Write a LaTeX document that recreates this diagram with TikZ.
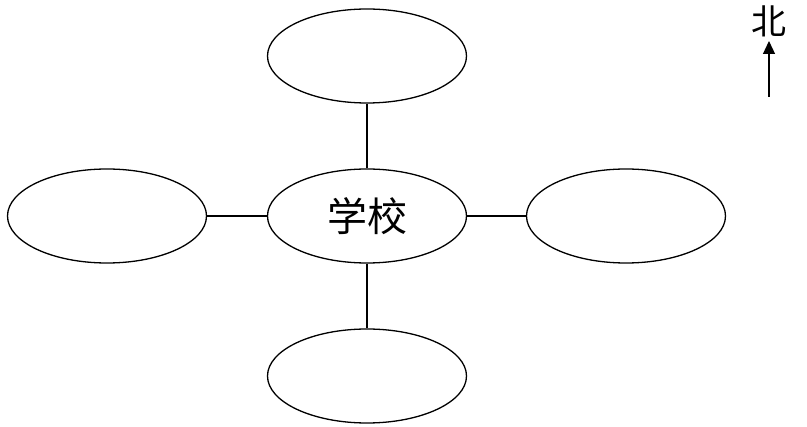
\documentclass[tikz,border=0pt]{standalone}
\usepackage{fontspec}
\newfontfamily\cjk{Noto Sans CJK SC}
\usetikzlibrary{arrows.meta,positioning,shapes.geometric}

\begin{document}
\begin{tikzpicture}[
  x=1pt,y=-1pt,
  place/.style={ellipse,draw,line width=1.3pt,
                minimum width=199pt,minimum height=94pt,inner sep=0pt},
  link/.style={line width=1.2pt}
]
  \useasboundingbox (0,0) rectangle (807,427);

  \node[place] (school) at (367,216) {\cjk\fontsize{40}{42}\selectfont 学校};
  \node[place] (north)  at (367,56)  {};
  \node[place] (south)  at (367,376) {};
  \node[place] (west)   at (107,216) {};
  \node[place] (east)   at (626,216) {};

  \foreach \p in {north,south,west,east}{
    \draw[link] (school)--(\p);
  }

  % compass
  \node[inner sep=0pt] (bei) at (769,21) {\cjk\fontsize{35}{37}\selectfont 北};
  \coordinate (tail) at (769,97);
  \coordinate (tip) at (769,41);
  \draw[-{Triangle[length=13pt,width=12pt]},line width=1.2pt] (tail)--(tip);
\end{tikzpicture}
\end{document}
